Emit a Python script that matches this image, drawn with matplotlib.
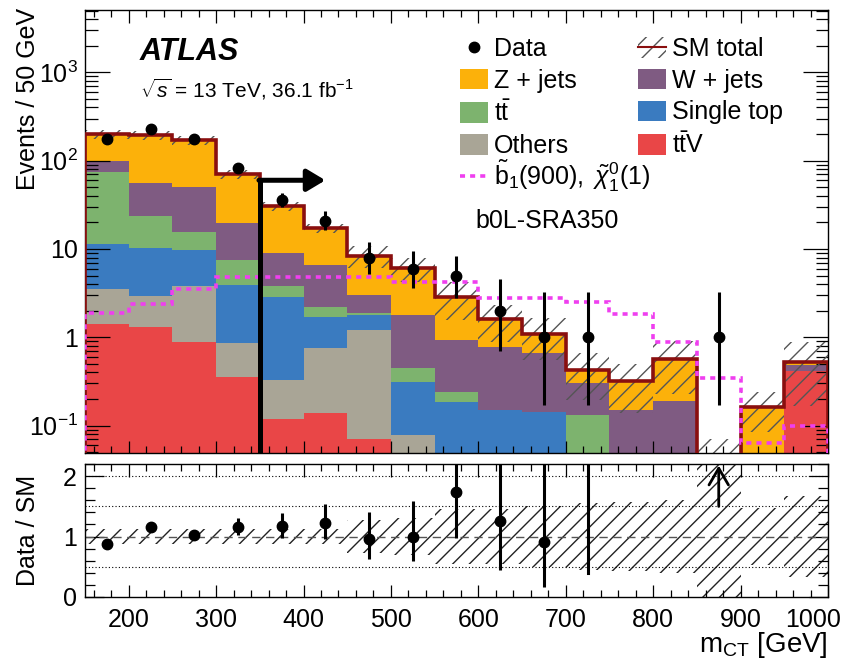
import numpy as np
import matplotlib
matplotlib.use("Agg")
import matplotlib.pyplot as plt
from matplotlib.ticker import MultipleLocator, FixedLocator, FixedFormatter, LogLocator, NullFormatter
from matplotlib.patches import Patch
from matplotlib.lines import Line2D
from matplotlib.transforms import ScaledTranslation

# ---------------- data ----------------
bin_edges = [150, 200, 250, 300, 350, 400, 450, 500, 550, 600, 650,
             700, 750, 800, 850, 900, 950, 1000]
data_counts = [176, 227, 176, 82, 36, 21, 8, 6, 5, 2, 1, 1, 0, 0, 1, 0, 0]
data_err_down = [13.3, 15.1, 13.3, 9.0, 6.0, 4.6, 2.8, 2.4, 2.2, 1.3, 0.83, 0.83, 0, 0, 0.83, 0, 0]
data_err_up = [14.3, 16.1, 14.3, 10.1, 7.0, 5.6, 3.9, 3.6, 3.4, 2.6, 2.3, 2.3, 0, 0, 2.3, 0, 0]

ttv = [1.41, 1.30, 0.89, 0.36, 0.12, 0.14, 0.07, 0, 0, 0, 0, 0, 0, 0, 0, 0, 0.42]
others = [2.1, 1.6, 2.9, 0.5, 0.21, 0.61, 1.14, 0.078, 0, 0, 0, 0, 0, 0, 0, 0, 0]
single_top = [7.9, 7.3, 5.9, 3.06, 2.55, 0.96, 0.58, 0.236, 0.187, 0.150, 0.144, 0, 0, 0, 0, 0, 0]
ttbar = [63.6, 13.4, 5.96, 3.59, 0.96, 0.51, 0.08, 0.132, 0.055, 0, 0, 0.132, 0, 0, 0, 0, 0]
wjets = [25.0, 31.9, 35.1, 12.0, 5.1, 4.37, 1.14, 1.34, 0.69, 0.63, 0.52, 0.17, 0.15, 0.19, 0, 0, 0.06]
zjets = [100.0, 139.5, 120.2, 51.2, 21.8, 10.6, 5.4, 4.25, 1.95, 0.82, 0.43, 0.13, 0.17, 0.38, 0.02, 0.164, 0.04]
sm_rel_unc = [0.12, 0.12, 0.12, 0.12, 0.12, 0.12, 0.28, 0.3, 0.45, 0.45, 0.5, 0.55, 0.57, 0.6, 2.5, 0.48, 0.68]
signal = [1.87, 2.4, 3.55, 4.86, 4.86, 4.86, 4.86, 4.2, 4.2, 2.76, 2.76, 2.53, 1.85, 0.89, 0.343, 0.064, 0.099]

cut_value = 350
cut_arrow_y = 60
cut_arrow_end = 425
ratio_arrow_base = 1.5

main_yticks = [0.1, 1, 10, 100, 1000]
main_yticklabels = [r'$10^{-1}$', '1', '10', r'$10^{2}$', r'$10^{3}$']
ratio_yticks = [0, 1, 2]
xticks = [200, 300, 400, 500, 600, 700, 800, 900, 1000]

# ---------------- style ----------------
plt.rcParams['font.family'] = ['Liberation Sans', 'DejaVu Sans']
plt.rcParams['mathtext.fontset'] = 'custom'
plt.rcParams['mathtext.rm'] = 'Liberation Sans'
plt.rcParams['mathtext.it'] = 'Liberation Sans:italic'
plt.rcParams['mathtext.bf'] = 'Liberation Sans:bold'
plt.rcParams['hatch.linewidth'] = 1.0
FS = 18

c_z = '#fcb10a'
c_w = '#7f5b82'
c_tt = '#7db36e'
c_st = '#3a7bc0'
c_oth = '#a9a596'
c_ttv = '#e94647'
c_sm = '#8a0f0f'
c_sig = '#ef3fef'

W, H = 854, 662
fig = plt.figure(figsize=(W / 100, H / 100), dpi=100)
L, R = 85, 828


def fx(px):
    return px / W


def fy(py):
    return 1 - py / H


ax = fig.add_axes([fx(L), fy(453), (R - L) / W, (453 - 10) / H])
rax = fig.add_axes([fx(L), fy(596.7), (R - L) / W, (596.7 - 464.3) / H])

edges = np.array(bin_edges, dtype=float)
centers = 0.5 * (edges[1:] + edges[:-1])
counts = np.array(data_counts, dtype=float)
elo = np.array(data_err_down)
ehi = np.array(data_err_up)
tiny = 1e-4

# ---------------- stacked backgrounds ----------------
stack = [(ttv, c_ttv), (others, c_oth), (single_top, c_st),
         (ttbar, c_tt), (wjets, c_w), (zjets, c_z)]
cum = np.zeros(len(centers))
for vals, col in stack:
    new = cum + np.array(vals)
    ax.stairs(np.maximum(new, tiny), edges, baseline=np.maximum(cum, tiny),
              fill=True, facecolor=col, edgecolor='none', lw=0, zorder=1)
    cum = new
total = cum
rel = np.array(sm_rel_unc)

# uncertainty band
band_up = total * (1 + rel)
band_lo = np.maximum(total * (1 - rel), tiny)
ax.stairs(band_up, edges, baseline=band_lo, fill=True, facecolor='none',
          edgecolor='#555555', hatch='//', lw=0, zorder=2)
# SM total line
ax.stairs(np.maximum(total, tiny), edges, baseline=tiny, color=c_sm, lw=2.6, zorder=3)
# signal
ax.stairs(np.array(signal), edges, baseline=tiny, color=c_sig, lw=2.6,
          ls=(0, (1.4, 1.4)), zorder=4)

# cut arrow
ax.plot([cut_value, cut_value], [tiny, cut_arrow_y], color='black', lw=3.6,
        solid_capstyle='butt', zorder=5)
ax.annotate('', xy=(cut_arrow_end, cut_arrow_y), xytext=(cut_value - 1, cut_arrow_y),
            arrowprops=dict(arrowstyle='-|>,head_length=0.55,head_width=0.33',
                            lw=3.6, color='black', mutation_scale=20,
                            shrinkA=0, shrinkB=0), zorder=5)

# data
m = counts > 0
ax.errorbar(centers[m], counts[m], yerr=[elo[m], ehi[m]], fmt='o', color='black',
            ms=7.5, elinewidth=2.2, capsize=0, zorder=6)

ax.set_xlim(150, 1000)
ax.set_yscale('log')
ax.set_ylim(0.049, 5080)
ax.yaxis.set_major_locator(FixedLocator(main_yticks))
ax.yaxis.set_major_formatter(FixedFormatter(main_yticklabels))
ax.yaxis.set_minor_locator(LogLocator(base=10, subs=np.arange(2, 10)))
ax.yaxis.set_minor_formatter(NullFormatter())
ax.xaxis.set_major_locator(FixedLocator(xticks))
ax.xaxis.set_minor_locator(MultipleLocator(20))
ax.tick_params(axis='both', which='both', direction='in', top=True, right=True,
               width=0.9, labelsize=FS)
ax.tick_params(axis='x', which='major', length=9, labelbottom=False)
ax.tick_params(axis='x', which='minor', length=5)
ax.tick_params(axis='y', which='major', length=18, pad=5)
ax.tick_params(axis='y', which='minor', length=9)
for s in ax.spines.values():
    s.set_linewidth(1.0)

# ---------------- ratio ----------------
rax.stairs(1 + rel, edges, baseline=1 - rel, fill=True, facecolor='none',
           edgecolor='#222222', hatch='//', lw=0, zorder=1)
rax.axhline(1, color='#555555', lw=1.0, ls=(0, (6, 4)), zorder=2)
for v in (0.5, 1.5, 2.0):
    rax.axhline(v, color='black', lw=0.8, ls=(0, (1, 2.0)), zorder=2)

ratio_top = 2.2
rv = np.where(total > 0, counts / np.where(total > 0, total, 1), 0)
rlo = elo / np.where(total > 0, total, 1)
rhi = ehi / np.where(total > 0, total, 1)
for i in range(len(centers)):
    if counts[i] <= 0:
        continue
    if rv[i] - rlo[i] > ratio_top:
        rax.annotate('', xy=(centers[i], ratio_top - 0.02), xytext=(centers[i], ratio_arrow_base),
                     arrowprops=dict(arrowstyle='->,head_length=0.6,head_width=0.35',
                                     lw=2.0, color='black', mutation_scale=20,
                                     shrinkA=0, shrinkB=0), zorder=6)
    elif rv[i] > ratio_top:
        rax.plot([centers[i], centers[i]], [rv[i] - rlo[i], ratio_top], color='black',
                 lw=2.2, zorder=6)
    else:
        rax.errorbar([centers[i]], [rv[i]], yerr=[[rlo[i]], [rhi[i]]], fmt='o',
                     color='black', ms=7.5, elinewidth=2.2, capsize=0, zorder=6)

rax.set_xlim(150, 1000)
rax.set_ylim(0, ratio_top)
rax.yaxis.set_major_locator(FixedLocator(ratio_yticks))
rax.yaxis.set_minor_locator(MultipleLocator(0.2))
rax.xaxis.set_major_locator(FixedLocator(xticks))
rax.xaxis.set_minor_locator(MultipleLocator(20))
rax.tick_params(axis='both', which='both', direction='in', top=True, right=True,
                width=0.9, labelsize=FS)
rax.tick_params(axis='x', which='major', length=9, pad=8)
rax.tick_params(axis='x', which='minor', length=5)
rax.tick_params(axis='y', which='major', length=14, pad=6)
rax.tick_params(axis='y', which='minor', length=7)
for s in rax.spines.values():
    s.set_linewidth(1.0)

# ---------------- labels ----------------
fig.text(fx(28), fy(8), 'Events / 50 GeV', rotation=90, ha='center', va='top', fontsize=FS)
fig.text(fx(28), fy(530), 'Data / SM', rotation=90, ha='center', va='center', fontsize=FS)
fig.text(fx(R), fy(645), r'm$_{\mathrm{CT}}$ [GeV]', ha='right', va='center', fontsize=FS + 2)
fig.text(fx(140), fy(52), 'ATLAS', fontsize=22, fontweight='bold', fontstyle='italic',
         ha='left', va='center')
fig.text(fx(140), fy(89), r'$\sqrt{s}$ = 13 TeV, 36.1 fb$^{-1}$', fontsize=15,
         ha='left', va='center')
fig.text(fx(475), fy(221), 'b0L-SRA350', fontsize=FS, ha='left', va='center')

# ---------------- legend ----------------
h_data = Line2D([], [], marker='o', ls='none', color='black', ms=7.5)
h_sm = (Patch(facecolor='none', edgecolor='#555555', hatch='//', lw=0),
        Line2D([], [], color=c_sm, lw=1.5))
h_z = Patch(facecolor=c_z, edgecolor='none')
h_w = Patch(facecolor=c_w, edgecolor='none')
h_tt = Patch(facecolor=c_tt, edgecolor='none')
h_st = Patch(facecolor=c_st, edgecolor='none')
h_oth = Patch(facecolor=c_oth, edgecolor='none')
h_ttv = Patch(facecolor=c_ttv, edgecolor='none')
h_sig = Line2D([], [], color=c_sig, lw=2.6, ls=(0, (1.4, 1.4)))

leg_kw = dict(frameon=False, fontsize=FS, handlelength=1.12, handleheight=0.88,
              handletextpad=0.25, labelspacing=0.31, borderpad=0, borderaxespad=0,
              bbox_transform=fig.transFigure)
leg1 = ax.legend([h_data, h_z, h_tt, h_oth],
                 ['Data', 'Z + jets', r'$\mathrm{t\bar{t}}$', 'Others'],
                 loc='upper left', bbox_to_anchor=(fx(460), fy(37)), **leg_kw)
ax.add_artist(leg1)
leg2 = ax.legend([h_sig],
                 [r'$\tilde{\mathrm{b}}_{1}(900),\ \tilde{\chi}^{0}_{1}(1)$'],
                 loc='center left', bbox_to_anchor=(fx(460), fy(176)), **leg_kw)
ax.add_artist(leg2)
ax.legend([h_sm, h_w, h_st, h_ttv],
          ['SM total', 'W + jets', 'Single top', r'$\mathrm{t\bar{t}V}$'],
          loc='upper left', bbox_to_anchor=(fx(638), fy(37)), **leg_kw)

# keep the last x tick label ("1000") inside the figure, as in the reference
fig.canvas.draw()
for tick in rax.xaxis.get_major_ticks():
    if abs(tick.get_loc() - xticks[-1]) < 1e-6:
        tick.label1.set_transform(tick.label1.get_transform() +
                                  ScaledTranslation(-0.15, 0, fig.dpi_scale_trans))

fig.savefig('out.png', dpi=100)
